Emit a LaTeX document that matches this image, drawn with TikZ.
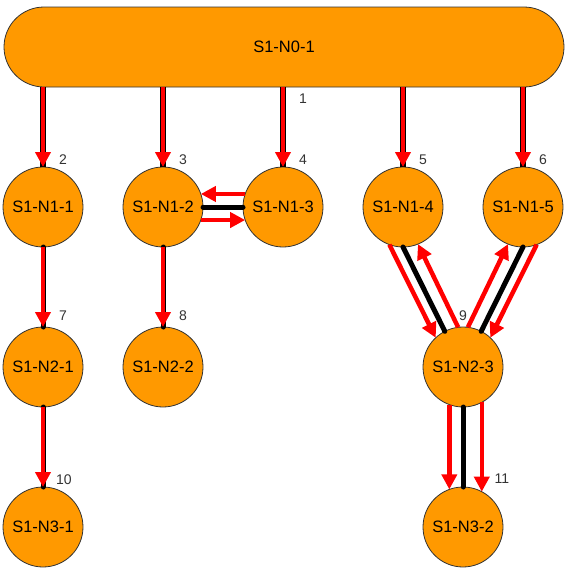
\documentclass[tikz,border=0pt]{standalone}
\usepackage{fontspec}
\setmainfont{Liberation Sans}
\usetikzlibrary{arrows.meta}
\definecolor{nodeorange}{RGB}{255,153,0}
\begin{document}
\begin{tikzpicture}[x=1pt,y=-1pt,
  nd/.style={circle, draw=black!80, line width=0.8pt, fill=nodeorange, minimum size=80pt, inner sep=0pt, outer sep=0pt, font=\fontsize{16.5}{19}\selectfont},
  lbl/.style={font=\fontsize{14}{16}\selectfont, text=black!80, inner sep=0pt},
  blk/.style={black, line width=5pt, line cap=round},
  blkb/.style={black, line width=5.8pt},
  rarr/.style={red, line width=4.5pt, -{Triangle[length=15pt,width=15pt]}}
]
\useasboundingbox (0,0) rectangle (568,573);
\node[draw=black!80, line width=0.8pt, fill=nodeorange, rounded corners=40pt, minimum width=560pt, minimum height=80pt, inner sep=0pt, outer sep=0pt, font=\fontsize{16.5}{19}\selectfont] (bar) at (284,47) {S1-N0-1};

\node[nd] (n11) at (43,207) {S1-N1-1};
\node[nd] (n12) at (163,207) {S1-N1-2};
\node[nd] (n13) at (283,207) {S1-N1-3};
\node[nd] (n14) at (403,207) {S1-N1-4};
\node[nd] (n15) at (523,207) {S1-N1-5};
\node[nd] (n21) at (43,367) {S1-N2-1};
\node[nd] (n22) at (163,367) {S1-N2-2};
\node[nd] (n23) at (463,367) {S1-N2-3};
\node[nd] (n31) at (43,527) {S1-N3-1};
\node[nd] (n32) at (463,527) {S1-N3-2};

% from the top bar
\foreach \n in {n11,n12,n13,n14,n15}{
  \draw[blkb] (\n |- bar.south) -- (\n.north);
  \draw[rarr] (\n |- bar.south) -- (\n.north);
}
% single vertical connectors
\draw[blk] (n11.south) -- (n21.north);
\draw[rarr] (n11.south) -- (n21.north);
\draw[blk] (n21.south) -- (n31.north);
\draw[rarr] (n21.south) -- (n31.north);
\draw[blk] (n12.south) -- (n22.north);
\draw[rarr] (n12.south) -- (n22.north);
% N1-2 <-> N1-3
\draw[blk] (n12.east) -- (n13.west);
\draw[rarr] (n13.161) -- (n12.19);
\draw[rarr] (n12.341) -- (n13.199);
% N1-4 <-> N2-3
\draw[blk] (n14.south) -- (n23.117);
\draw[rarr] (n14.250) -- (n23.133);
\draw[rarr] (n23.97) -- (n14.292);
% N1-5 <-> N2-3
\draw[blk] (n15.south) -- (n23.63);
\draw[rarr] (n23.83) -- (n15.248);
\draw[rarr] (n15.290) -- (n23.47);
% N2-3 -> N3-2
\draw[blk] (n23.south) -- (n32.north);
\draw[rarr] (n23.250) -- (n32.110);
\draw[rarr] (n23.298) -- (n32.62);

% labels
\node[lbl] (l1) at (303,99) {1};
\node[lbl] (l2) at (63,160) {2};
\node[lbl] (l3) at (183,160) {3};
\node[lbl] (l4) at (303,160) {4};
\node[lbl] (l5) at (423,160) {5};
\node[lbl] (l6) at (543,160) {6};
\node[lbl] (l7) at (63,316) {7};
\node[lbl] (l8) at (183,316) {8};
\node[lbl] (l9) at (463,316) {9};
\node[lbl] (l10) at (64,480) {10};
\node[lbl] (l11) at (502,479) {11};
\end{tikzpicture}
\end{document}
